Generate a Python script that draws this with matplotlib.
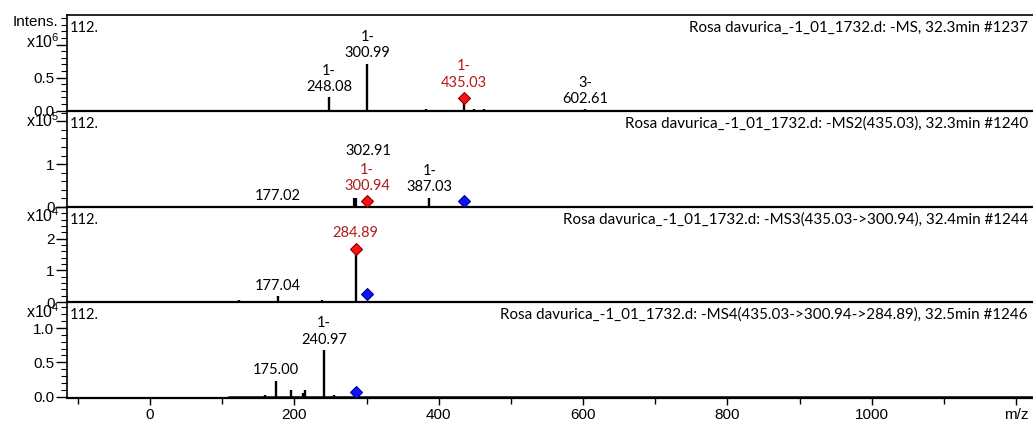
import matplotlib
matplotlib.use("Agg")
import matplotlib.pyplot as plt
from matplotlib.ticker import MultipleLocator, FixedLocator

# ---- spectra (m/z, intensity in counts) ----
ms1_mz = [248.08, 300.99, 383.0, 435.03, 449.0, 463.0, 470.0, 476.0, 602.61, 622.0, 681.0]
ms1_int = [2.0e5, 7.1e5, 3.0e4, 1.3e5, 2.5e4, 2.0e4, 1.5e4, 1.2e4, 2.0e4, 8.0e3, 6.0e3]

ms2_mz = [122.0, 177.02, 283.9, 300.94, 302.91, 387.03]
ms2_int = [1.5e3, 2.0e3, 2.2e4, 1.0e3, 1.0e3, 2.2e4]

ms3_mz = [123.0, 177.04, 239.0, 284.89]
ms3_int = [6.0e2, 1.8e3, 5.0e2, 1.63e4]

ms4_mz = [159.0, 175.00, 196.0, 212.0, 215.0, 240.97, 255.0]
ms4_int = [2.0e2, 2.35e3, 1.0e3, 5.0e2, 9.0e2, 6.8e3, 3.0e2]

# precursor markers (m/z, intensity)
ms1_red = [(435.03, 1.9e5)]
ms2_red = [(300.94, 1.3e4)]
ms2_blue = [(435.03, 1.3e4)]
ms3_red = [(284.89, 1.68e4)]
ms3_blue = [(300.94, 2.4e3)]
ms4_blue = [(284.89, 6.5e2)]

# peak annotations: (m/z, text, color)
ms1_labels = [(248.08, "1-\n248.08", "k"), (300.99, "1-\n300.99", "k"),
              (435.03, "1-\n435.03", "r"), (602.61, "3-\n602.61", "k")]
ms2_labels = [(177.02, "177.02", "k"), (302.91, "302.91", "k"),
              (300.94, "1-\n300.94", "r"), (387.03, "1-\n387.03", "k")]
ms3_labels = [(284.89, "284.89", "r"), (177.04, "177.04", "k")]
ms4_labels = [(175.00, "175.00", "k"), (240.97, "1-\n240.97", "k")]

titles = [
    "Rosa davurica_-1_01_1732.d: -MS, 32.3min #1237",
    "Rosa davurica_-1_01_1732.d: -MS2(435.03), 32.3min #1240",
    "Rosa davurica_-1_01_1732.d: -MS3(435.03->300.94), 32.4min #1244",
    "Rosa davurica_-1_01_1732.d: -MS4(435.03->300.94->284.89), 32.5min #1246",
]
exponents = [6, 5, 4, 4]
x_ticks = [0, 200, 400, 600, 800, 1000, 1200]
x_ticklabels = ["0", "200", "400", "600", "800", "1000", "m/z"]

# ---- styling ----
LABEL_FONT = "Lato"
TICK_FONT = "Liberation Sans"
DARK_RED = "#b01c1c"
plt.rcParams["mathtext.fontset"] = "custom"
plt.rcParams["mathtext.rm"] = TICK_FONT

W, H = 1033, 421
fig = plt.figure(figsize=(W / 100, H / 100), dpi=100)

left_px = 67
xlim = (-115.0, 1223.5)
panels_px = [(15, 110.5), (110.5, 207), (207, 302), (302, 398)]
ylims = [(0, 1.45), (0, 2.25), (0, 3.0), (-0.02, 1.38)]
y_major = [[0.0, 0.5, 1.0], [0, 1, 2], [0, 1, 2, 3], [0.0, 0.5, 1.0]]
y_labels = [["0.0", "0.5", ""], ["0", "1", ""], ["0", "1", "2", ""], ["0.0", "0.5", "1.0"]]
y_minor = [0.1, 0.2, 0.2, 0.1]
data_start = [-115.0, 108.0, 108.0, 108.0]
exp_y_px = [42, 121, 216, 312]

spectra = [(ms1_mz, ms1_int), (ms2_mz, ms2_int), (ms3_mz, ms3_int), (ms4_mz, ms4_int)]
reds = [ms1_red, ms2_red, ms3_red, []]
blues = [[], ms2_blue, ms3_blue, ms4_blue]
labels = [ms1_labels, ms2_labels, ms3_labels, ms4_labels]
# vertical text offsets (points) for labels stacked above neighbours
special_offsets = {302.91: 35}

for i, ((top, bot), (mz, inten)) in enumerate(zip(panels_px, spectra)):
    scale = 10.0 ** exponents[i]
    ax = fig.add_axes([left_px / W, (H - bot) / H, 1 - left_px / W, (bot - top) / H])
    ax.set_xlim(*xlim)
    ax.set_ylim(*ylims[i])

    # baseline + stick peaks
    ax.plot([data_start[i], xlim[1]], [0, 0], color="k", lw=1.8, solid_capstyle="butt", zorder=2)
    ys = [v / scale for v in inten]
    widths = [3.0 if (i == 1 and abs(m - 283.9) < 0.5) else 1.7 for m in mz]
    for m, y, w in zip(mz, ys, widths):
        ax.plot([m, m], [0, y], color="k", lw=w, solid_capstyle="butt", zorder=3)

    for (m, v) in reds[i]:
        ax.plot([m], [v / scale], marker="D", ms=6.5, mfc="#ff1010", mec="#8b0000", mew=0.8, zorder=5)
    for (m, v) in blues[i]:
        ax.plot([m], [v / scale], marker="D", ms=6.5, mfc="#1010ff", mec="#00008b", mew=0.8, zorder=5)

    # annotations
    marker_pts = {m: v / scale for (m, v) in reds[i]}
    peak_pts = dict(zip(mz, ys))
    for (m, txt, c) in labels[i]:
        if m in marker_pts:
            y = marker_pts[m]
            off = 6
        else:
            y = peak_pts.get(m, 0.0)
            off = 2.5
        off = special_offsets.get(m, off)
        ax.annotate(txt, (m, y), xytext=(0, off), textcoords="offset points",
                    ha="center", va="bottom", fontsize=10.5, family=LABEL_FONT,
                    color=DARK_RED if c == "r" else "k", linespacing=1.2, zorder=6)

    ax.text(3 / (W - left_px), 1 - 13 / (bot - top), "112.", transform=ax.transAxes,
            fontsize=10.5, family=LABEL_FONT, ha="left", va="center")
    ax.text((1028 - left_px) / (W - left_px), 1 - 13 / (bot - top), titles[i], transform=ax.transAxes,
            fontsize=10.9, family=LABEL_FONT, ha="right", va="center")

    # y axis
    ax.yaxis.set_major_locator(FixedLocator(y_major[i]))
    ax.set_yticklabels(y_labels[i], family=TICK_FONT, fontsize=11)
    ax.yaxis.set_minor_locator(MultipleLocator(y_minor[i]))
    ax.tick_params(axis="y", which="major", direction="out", length=8, width=1.0, pad=1)
    ax.tick_params(axis="y", which="minor", direction="out", length=4, width=0.8)

    # x axis
    if i == 3:
        ax.set_xticks(x_ticks)
        ax.set_xticklabels(x_ticklabels, family=TICK_FONT, fontsize=11)
        ax.xaxis.set_minor_locator(MultipleLocator(100))
        ax.tick_params(axis="x", which="major", direction="out", length=5, width=1.0, pad=2)
        ax.tick_params(axis="x", which="minor", direction="out", length=4, width=1.0)
    else:
        ax.set_xticks([])
        ax.xaxis.set_minor_locator(FixedLocator([]))

    ax.spines["right"].set_visible(False)
    ax.spines["top"].set_visible(i == 0)
    ax.spines["top"].set_linewidth(1.2)
    ax.spines["left"].set_linewidth(1.2)
    ax.spines["bottom"].set_linewidth(1.6)
    ax.patch.set_alpha(0)

    # exponent label at the top of each y axis
    fig.text(60 / W, (H - exp_y_px[i]) / H, r"x10$^{\mathregular{%d}}$" % exponents[i],
             ha="right", va="center", fontsize=11.5, family=TICK_FONT)

fig.text(58 / W, (H - 22) / H, "Intens.", ha="right", va="center", fontsize=11, family=TICK_FONT)

fig.savefig("out.png", dpi=100)
